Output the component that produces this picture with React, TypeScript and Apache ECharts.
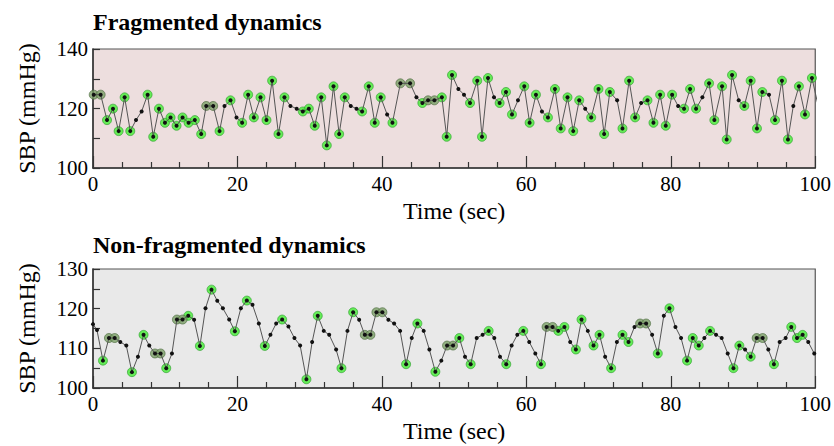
import React, { useEffect, useRef } from "react";
import * as echarts from "echarts";

// ---- Fragmented dynamics (top) ----
const topTimes = [
  0.1, 1.06, 1.94, 2.77, 3.55, 4.38, 5.16, 5.95, 6.73, 7.56,
  8.34, 9.13, 9.96, 10.74, 11.57, 12.4, 13.23, 14.1, 14.98, 15.68,
  16.64, 17.52, 18.21, 19.04, 19.87, 20.65, 21.48, 22.27, 23.19, 24.02,
  24.8, 25.68, 26.51, 27.34, 28.2, 29.05, 29.88, 30.7, 31.6, 32.37,
  33.3, 34.08, 34.86, 35.69, 36.48, 37.26, 38.18, 39.01, 39.84, 40.72,
  41.46, 42.56, 43.9, 44.78, 45.6, 46.39, 47.27, 48.3, 48.97, 49.71,
  50.59, 51.37, 52.2, 53.2, 53.86, 54.69, 55.52, 56.3, 57.18, 58.01,
  58.84, 59.71, 60.45, 61.33, 62.16, 62.99, 63.96, 64.76, 65.7, 66.49,
  67.32, 68.15, 68.98, 69.99, 70.77, 71.56, 72.57, 73.31, 74.23, 75.06,
  75.89, 76.77, 77.6, 78.52, 79.3, 80.18, 81.01, 81.84, 82.67, 83.5,
  84.37, 85.3, 86.03, 87.1, 87.74, 88.48, 89.4, 90.18, 91.06, 91.93,
  92.67, 93.6, 94.43, 95.39, 96.22, 96.96, 97.74, 98.58, 99.54, 100.4,
];
const topValues = [
  124.65, 124.65, 116.1, 119.95, 112.4, 123.75, 112.4, 116.1, 119.0, 124.65,
  110.5, 119.95, 115.2, 117.0, 114.2, 117.0, 115.2, 116.1, 111.4, 120.85,
  120.85, 112.4, 120.85, 122.75, 117.0, 115.2, 124.65, 117.0, 123.75, 116.1,
  129.35, 111.4, 123.75, 120.85, 119.95, 119.0, 119.95, 114.2, 123.75, 107.6,
  127.45, 111.4, 123.75, 120.85, 119.95, 119.0, 127.45, 115.2, 123.75, 118.0,
  115.2, 128.46, 128.46, 123.75, 121.85, 122.75, 122.75, 123.75, 110.5, 131.26,
  126.55, 124.65, 121.85, 129.35, 110.5, 130.25, 123.75, 121.85, 125.55, 118.0,
  122.75, 127.45, 115.2, 124.65, 119.0, 117.0, 126.55, 113.3, 123.75, 112.4,
  122.75, 119.95, 117.0, 126.55, 111.4, 125.55, 122.75, 113.3, 129.35, 117.0,
  121.85, 122.75, 115.2, 124.65, 114.2, 124.65, 120.85, 119.95, 126.55, 119.95,
  123.75, 128.46, 116.1, 127.45, 109.6, 131.26, 122.75, 120.85, 129.35, 113.3,
  125.55, 124.65, 116.1, 129.35, 109.6, 120.85, 127.45, 118.0, 130.25, 121.0,
];
// b = plain beat, g = local extremum, p = plateau extremum
const topKinds = (
  "ppgggggbbg" + "gggggggggp" + "pgbgbggggg" + "gggbbggggg" + "gggbbggggb" +
  "gppbgppggg" + "bbggggbggg" + "bgggbggggg" + "gbggggbggg" + "bgggggbggg" +
  "bgggggbggg" + "gbgggbgggb"
).split("");

// ---- Non-fragmented dynamics (bottom) ----
const bottomTimes = [
  0.0, 0.55, 1.38, 2.21, 3.0, 3.78, 4.61, 5.39, 6.22, 7.0,
  7.79, 8.58, 9.36, 10.14, 10.93, 11.62, 12.4, 13.19, 14.0, 14.8,
  15.58, 16.41, 17.2, 17.98, 18.86, 19.64, 20.47, 21.3, 22.08, 22.96,
  23.79, 24.57, 25.36, 26.19, 27.06, 27.89, 28.68, 29.55, 30.34, 31.12,
  31.95, 32.7, 33.66, 34.4, 35.23, 36.02, 36.85, 37.63, 38.41, 39.24,
  40.07, 40.9, 41.69, 42.52, 43.35, 44.13, 44.91, 45.79, 46.57, 47.4,
  48.23, 49.02, 49.85, 50.72, 51.51, 52.29, 53.12, 53.95, 54.78, 55.56,
  56.35, 57.22, 57.96, 58.75, 59.58, 60.4, 61.24, 62.02, 62.8, 63.63,
  64.42, 65.27, 66.07, 66.86, 67.64, 68.51, 69.3, 70.13, 70.91, 71.74,
  72.53, 73.31, 74.14, 74.97, 75.75, 76.58, 77.41, 78.2, 79.03, 79.81,
  80.64, 81.42, 82.25, 83.04, 83.87, 84.65, 85.44, 86.27, 87.05, 87.88,
  88.67, 89.49, 90.28, 91.06, 91.89, 92.72, 93.5, 94.28, 95.07, 95.9,
  96.68, 97.47, 98.25, 99.03, 99.86,
];
const bottomValues = [
  116.1, 114.6, 106.9, 112.6, 112.6, 111.6, 110.7, 104.0, 107.9, 113.4,
  110.7, 108.7, 108.7, 105.0, 108.7, 117.26, 117.26, 118.2, 117.2, 110.6,
  120.1, 124.8, 122.0, 120.1, 117.26, 114.3, 120.1, 122.04, 121.0, 116.26,
  110.6, 113.4, 116.26, 117.26, 115.5, 112.6, 110.7, 102.2, 111.6, 118.2,
  114.4, 113.4, 109.7, 105.0, 114.4, 119.1, 117.2, 113.4, 113.4, 119.1,
  119.1, 117.2, 116.26, 114.4, 106.0, 112.6, 116.26, 114.4, 109.7, 104.1,
  106.9, 110.7, 110.7, 112.6, 107.9, 106.0, 112.6, 113.4, 114.4, 112.6,
  107.9, 106.0, 110.7, 113.4, 114.4, 111.6, 108.7, 106.0, 115.4, 115.4,
  114.4, 115.4, 111.6, 109.7, 117.26, 114.4, 110.7, 113.4, 107.9, 105.0,
  111.6, 113.4, 111.6, 115.4, 116.26, 116.26, 113.4, 108.7, 118.2, 120.1,
  115.4, 112.6, 106.9, 112.6, 110.7, 112.6, 114.4, 113.4, 112.6, 108.7,
  105.0, 110.7, 109.7, 107.9, 112.6, 112.6, 109.7, 106.0, 111.6, 112.6,
  115.4, 112.6, 113.4, 111.6, 108.7,
];
const bottomKinds = (
  "bbgppbbgbg" + "bppgbppgbg" + "bgbbbgbgbb" + "gbbgbbbgbg" + "bbbgbgbppp" +
  "pbbbgbgbbg" + "bppgbgbbgb" + "bgbbgbbgpp" + "ggbggbggbg" + "bggbppbgbg" +
  "bbgggbgbbb" + "ggbgppbgbb" + "gggbb"
).split("");

const titles = ["Fragmented dynamics", "Non-fragmented dynamics"];
const xName = "Time (sec)";
const yName = "SBP (mmHg)";
const yRanges = [
  { min: 100, max: 140, interval: 20 },
  { min: 100, max: 130, interval: 10 },
];

const FONT = "Liberation Serif";

function pts(times: number[], values: number[]) {
  return times.map((t, i) => [t, values[i]]);
}
function pick(times: number[], values: number[], kinds: string[], k: string) {
  const out: number[][] = [];
  times.forEach((t, i) => {
    if (kinds[i] === k) out.push([t, values[i]]);
  });
  return out;
}

export default function App() {
  const ref = useRef<HTMLDivElement>(null);
  useEffect(() => {
    document.body.style.margin = "0";
    const chart = echarts.init(ref.current!, undefined, { renderer: "svg" });
    const grids = [
      { left: 93, right: 18, top: 49, height: 119, bg: "#eddede" },
      { left: 93, right: 18, top: 269, height: 119, bg: "#e9e9e9" },
    ];
    const sets = [
      { t: topTimes, v: topValues, k: topKinds },
      { t: bottomTimes, v: bottomValues, k: bottomKinds },
    ];
    const series: any[] = [];
    sets.forEach((s, gi) => {
      series.push({
        type: "scatter",
        xAxisIndex: gi,
        yAxisIndex: gi,
        data: pick(s.t, s.v, s.k, "g"),
        symbolSize: 9,
        itemStyle: { color: "#44ee33", borderColor: "#2c9c2c", borderWidth: 0.8 },
        z: 2,
      });
      series.push({
        type: "scatter",
        xAxisIndex: gi,
        yAxisIndex: gi,
        data: pick(s.t, s.v, s.k, "p"),
        symbolSize: 9,
        itemStyle: { color: "#7a9f66", borderColor: "#48683a", borderWidth: 0.8 },
        z: 2,
      });
      series.push({
        type: "line",
        xAxisIndex: gi,
        yAxisIndex: gi,
        data: pts(s.t, s.v),
        symbol: "circle",
        symbolSize: 4,
        showSymbol: true,
        itemStyle: { color: "#111" },
        lineStyle: { color: "#555", width: 1 },
        clip: true,
        z: 3,
      });
    });
    chart.setOption({
      animation: false,
      backgroundColor: "#fff",
      title: titles.map((text, i) => ({
        text,
        left: 93,
        top: i === 0 ? 10 : 233,
        padding: 0,
        textStyle: { fontFamily: FONT, fontWeight: "bold", fontSize: 24, color: "#000" },
      })),
      grid: grids.map((g) => ({
        left: g.left,
        right: g.right,
        top: g.top,
        height: g.height,
        show: true,
        backgroundColor: g.bg,
        borderColor: "#555",
        borderWidth: 1.2,
      })),
      xAxis: grids.map((_, i) => ({
        type: "value",
        gridIndex: i,
        min: 0,
        max: 100,
        interval: 20,
        name: xName,
        nameLocation: "middle",
        nameGap: 31,
        nameTextStyle: { fontFamily: FONT, fontSize: 24, color: "#000" },
        axisLine: { show: true, lineStyle: { color: "#333", width: 1.5 } },
        axisTick: { show: true, inside: true, length: 12, lineStyle: { color: "#333", width: 1.2 } },
        minorTick: { show: true, splitNumber: 5, length: 6, lineStyle: { color: "#333", width: 1.2 } },
        splitLine: { show: false },
        axisLabel: { fontFamily: FONT, fontSize: 21, color: "#000", margin: 5 },
      })),
      yAxis: yRanges.map((r, i) => ({
        type: "value",
        gridIndex: i,
        min: r.min,
        max: r.max,
        interval: r.interval,
        name: yName,
        nameLocation: "middle",
        nameRotate: 90,
        nameGap: 54,
        nameTextStyle: { fontFamily: FONT, fontSize: 24, color: "#000" },
        axisLine: { show: true, lineStyle: { color: "#333", width: 1.5 } },
        axisTick: { show: true, inside: true, length: 7, lineStyle: { color: "#333", width: 1.2 } },
        minorTick: { show: true, splitNumber: 2, length: 7, lineStyle: { color: "#333", width: 1.2 } },
        splitLine: { show: false },
        axisLabel: { fontFamily: FONT, fontSize: 21, color: "#000", margin: 5 },
      })),
      series,
    });
    return () => chart.dispose();
  }, []);
  return (
    <div
      ref={ref}
      style={{ position: "absolute", left: 0, top: 0, width: 834, height: 446 }}
    />
  );
}
